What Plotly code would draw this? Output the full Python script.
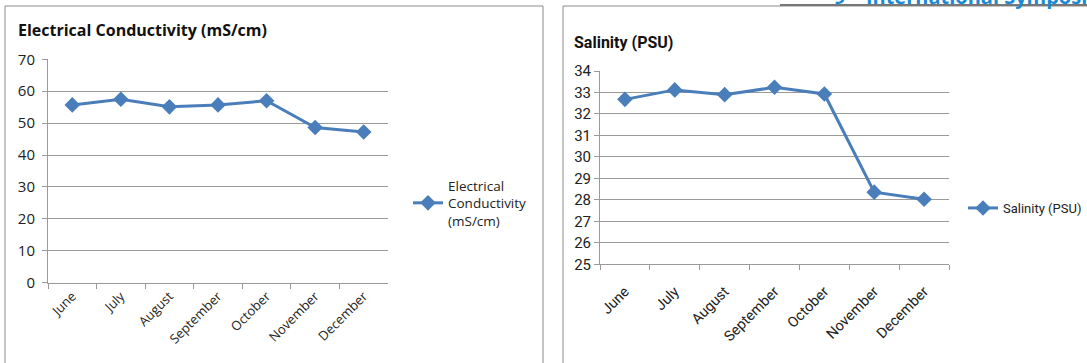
import plotly.graph_objects as go

W, H = 1087, 363

months = ["June", "July", "August", "September", "October", "November", "December"]
conductivity = [55.7, 57.5, 55.1, 55.7, 57.0, 48.6, 47.2]
salinity = [32.68, 33.12, 32.90, 33.24, 32.93, 28.36, 28.03]

ec_ticks = [0, 10, 20, 30, 40, 50, 60, 70]
sal_ticks = [25, 26, 27, 28, 29, 30, 31, 32, 33, 34]

BLUE = "#4a7ebb"
GRID = "#9a9a9a"
LEFT_FONT = "Open Sans"
RIGHT_FONT = "Roboto"


def px(x):
    return x / W


def py(y):
    return 1 - y / H


fig = go.Figure()

fig.add_trace(go.Scatter(
    x=months, y=conductivity, name="Electrical<br>Conductivity<br>(mS/cm)",
    mode="lines+markers", line=dict(color=BLUE, width=3),
    marker=dict(symbol="diamond", size=12, color=BLUE),
    xaxis="x", yaxis="y", legend="legend", cliponaxis=False,
))
fig.add_trace(go.Scatter(
    x=months, y=salinity, name="Salinity (PSU)",
    mode="lines+markers", line=dict(color=BLUE, width=3),
    marker=dict(symbol="diamond", size=12, color=BLUE),
    xaxis="x2", yaxis="y2", legend="legend2", cliponaxis=False,
))

xcommon = dict(
    type="category", showgrid=False, showline=True, linecolor=GRID, linewidth=1,
    ticks="outside", tickson="boundaries", ticklen=5, tickcolor=GRID,
    tickangle=-45, range=[-0.5, 6.5], zeroline=False, automargin=False,
)
ycommon = dict(
    showgrid=True, gridcolor=GRID, gridwidth=1, showline=True, linecolor=GRID,
    ticks="outside", ticklen=5, tickcolor=GRID, zeroline=False, automargin=False,
)

fig.update_layout(
    width=W, height=H, margin=dict(l=0, r=0, t=0, b=0, pad=0, autoexpand=False),
    paper_bgcolor="white", plot_bgcolor="white",
    xaxis=dict(**xcommon, domain=[px(48), px(388)], anchor="y",
               tickfont=dict(family=LEFT_FONT, size=13, color="#222")),
    yaxis=dict(**ycommon, domain=[py(282.6), py(59.3)], range=[0, 70],
               tickvals=ec_ticks, anchor="x", ticklabelstandoff=4,
               tickfont=dict(family=LEFT_FONT, size=15, color="#222")),
    xaxis2=dict(**xcommon, domain=[px(600), px(949)], anchor="y2", ticklabelstandoff=12,
                tickfont=dict(family=RIGHT_FONT, size=14.5, color="#222")),
    yaxis2=dict(**ycommon, domain=[py(264.3), py(71)], range=[25, 34],
                tickvals=sal_ticks, anchor="x2",
                tickfont=dict(family=RIGHT_FONT, size=15, color="#222")),
    legend=dict(x=px(408), y=py(203), xanchor="left", yanchor="middle",
                font=dict(family=LEFT_FONT, size=13.5, color="#222"),
                bgcolor="rgba(0,0,0,0)", itemwidth=30, tracegroupgap=0),
    legend2=dict(x=px(963), y=py(208), xanchor="left", yanchor="middle",
                 font=dict(family=RIGHT_FONT, size=13, color="#222"),
                 bgcolor="rgba(0,0,0,0)", itemwidth=30),
    showlegend=True,
)

# Chart frames
fig.add_shape(type="rect", xref="paper", yref="paper",
              x0=px(5), x1=px(543), y0=py(380), y1=py(6),
              line=dict(color="#8c8c8c", width=1), fillcolor="rgba(0,0,0,0)")
fig.add_shape(type="rect", xref="paper", yref="paper",
              x0=px(563), x1=px(1100), y0=py(380), y1=py(6),
              line=dict(color="#8c8c8c", width=1), fillcolor="rgba(0,0,0,0)")
fig.add_shape(type="line", xref="paper", yref="paper",
              x0=px(780), x1=1, y0=py(5), y1=py(5),
              line=dict(color="#777", width=2))

# Titles
fig.add_annotation(text="<b>Electrical Conductivity (mS/cm)</b>", xref="paper", yref="paper",
                   x=px(16), y=py(30), xanchor="left", yanchor="middle", showarrow=False,
                   font=dict(family=LEFT_FONT, size=16, color="#111"))
fig.add_annotation(text="<b>Salinity (PSU)</b>", xref="paper", yref="paper",
                   x=px(572), y=py(42), xanchor="left", yanchor="middle", showarrow=False,
                   font=dict(family=RIGHT_FONT, size=16, color="#111"))

# Header banner at the top edge of the page
fig.add_annotation(text="<b>9<sup>th</sup> International Symposium</b>", xref="paper", yref="paper",
                   x=px(832), y=py(0), xanchor="left", yanchor="bottom", yshift=-12,
                   showarrow=False,
                   font=dict(family="Open Sans", size=20, color="#1a8ad4"))

fig.write_html("out.html")
